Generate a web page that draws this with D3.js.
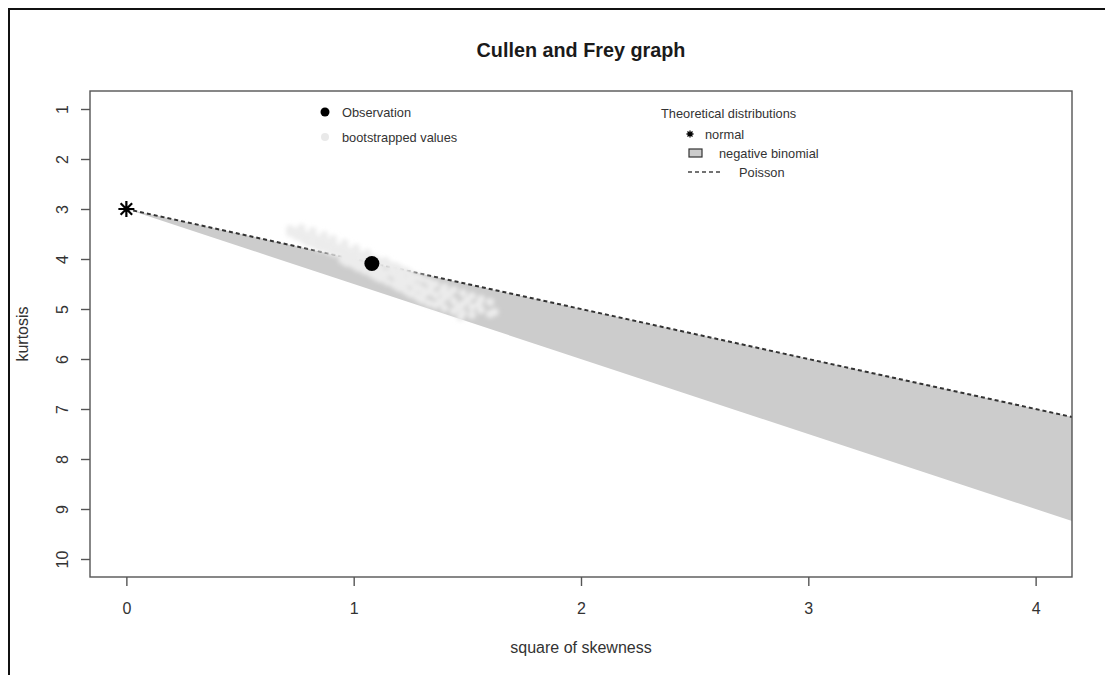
<!DOCTYPE html>
<html>
<head>
<meta charset="utf-8">
<script src="https://cdn.jsdelivr.net/npm/d3@7"></script>
<style>
  html, body { margin: 0; padding: 0; background: #fff; }
  svg { display: block; font-family: "Liberation Sans", Arial, sans-serif; }
</style>
</head>
<body>
<svg id="chart" width="1105" height="675"></svg>
<script>
// Axis ticks
const skewTicks = [0, 1, 2, 3, 4];
const kurtTicks = [1, 2, 3, 4, 5, 6, 7, 8, 9, 10];

// Observed sample: square of skewness and kurtosis
const observationSkewSq = [1.08];
const observationKurt = [4.09];

// Normal distribution point
const normalSkewSq = [0];
const normalKurt = [3];

// Poisson line (upper edge of the negative binomial region)
const poissonSkewSq = [0, 4.16];
const poissonKurt = [3, 7.16];

// Lower edge of the negative binomial region
const negBinSkewSq = [0, 4.16];
const negBinLowerKurt = [3, 9.24];

// Bootstrapped (square of skewness, kurtosis) values
const bootSkewSq = [
  0.72, 0.72, 0.75, 0.75, 0.78, 0.78, 0.80, 0.80, 0.83, 0.83,
  0.85, 0.85, 0.88, 0.88, 0.90, 0.90, 0.92, 0.92, 0.95, 0.95,
  0.95, 0.97, 0.97, 0.97, 1.00, 1.00, 1.00, 1.02, 1.02, 1.02,
  1.05, 1.05, 1.05, 1.08, 1.08, 1.08, 1.10, 1.10, 1.10, 1.12,
  1.12, 1.12, 1.15, 1.15, 1.15, 1.18, 1.18, 1.18, 1.20, 1.20,
  1.20, 1.23, 1.23, 1.23, 1.25, 1.25, 1.25, 1.28, 1.28, 1.28,
  1.30, 1.30, 1.30, 1.33, 1.33, 1.33, 1.36, 1.36, 1.36, 1.40,
  1.40, 1.40, 1.44, 1.44, 1.44, 1.48, 1.48, 1.48, 1.52, 1.52,
  1.52, 1.56, 1.56, 1.60, 1.60,
  0.86, 0.93, 1.04, 1.13, 1.17, 1.26, 1.34, 1.42, 1.46, 0.98,
  1.07, 1.22, 1.38, 1.50, 0.79, 1.11,
  0.77, 0.82, 0.87, 0.91, 0.96, 1.01, 1.06, 1.14, 1.21, 1.31,
  1.39, 1.47, 1.55, 1.62, 1.27, 1.19
];
const bootKurt = [
  3.40, 3.48, 3.45, 3.55, 3.50, 3.62, 3.55, 3.68, 3.58, 3.72,
  3.62, 3.78, 3.66, 3.80, 3.70, 3.85, 3.75, 3.88, 3.78, 3.92,
  4.02, 3.82, 3.96, 4.08, 3.86, 4.00, 4.12, 3.90, 4.05, 4.18,
  3.95, 4.10, 4.24, 4.00, 4.14, 4.30, 4.02, 4.18, 4.36, 4.06,
  4.22, 4.40, 4.10, 4.28, 4.46, 4.14, 4.32, 4.52, 4.18, 4.38,
  4.58, 4.24, 4.42, 4.64, 4.30, 4.48, 4.70, 4.36, 4.55, 4.76,
  4.40, 4.60, 4.82, 4.45, 4.66, 4.88, 4.50, 4.72, 4.92, 4.56,
  4.78, 4.98, 4.62, 4.84, 5.04, 4.68, 4.90, 5.08, 4.74, 4.96,
  5.12, 4.80, 5.02, 4.86, 5.10,
  3.70, 3.82, 4.18, 4.34, 4.22, 4.40, 4.58, 4.70, 4.96, 3.90,
  4.06, 4.50, 4.86, 4.82, 3.60, 4.28,
  3.38, 3.44, 3.52, 3.60, 3.68, 3.78, 3.88, 4.04, 4.30, 4.70,
  4.64, 5.16, 4.90, 5.06, 4.60, 4.46
];

const svg = d3.select("#chart");
const W = 1105, H = 675;
const plot = { left: 90, right: 1072, top: 91, bottom: 577 };

const x = d3.scaleLinear().domain([-0.16, 4.16]).range([plot.left, plot.right]);
const y = d3.scaleLinear().domain([0.64, 10.36]).range([plot.top, plot.bottom]);

svg.append("rect").attr("width", W).attr("height", H).attr("fill", "#fff");

// Outer frame (left and top edges)
svg.append("path")
  .attr("d", `M9,${H} L9,9 L${W},9`)
  .attr("fill", "none").attr("stroke", "#111").attr("stroke-width", 2);

const defs = svg.append("defs");
defs.append("clipPath").attr("id", "plotClip")
  .append("rect")
  .attr("x", plot.left).attr("y", plot.top)
  .attr("width", plot.right - plot.left).attr("height", plot.bottom - plot.top);
// Soft edges for the dense bootstrap cloud
defs.append("filter").attr("id", "soft")
  .attr("x", "-20%").attr("y", "-20%").attr("width", "140%").attr("height", "140%")
  .append("feGaussianBlur").attr("stdDeviation", 2.2);

const inner = svg.append("g").attr("clip-path", "url(#plotClip)");

// Negative binomial region
const regionPts = poissonSkewSq.map((s, i) => [s, poissonKurt[i]])
  .concat(negBinSkewSq.map((s, i) => [s, negBinLowerKurt[i]]).reverse());
inner.append("path")
  .attr("d", d3.line().x(d => x(d[0])).y(d => y(d[1]))(regionPts) + "Z")
  .attr("fill", "#cccccc").attr("stroke", "none");

// Poisson line
inner.append("path")
  .attr("d", d3.line().x(d => x(d[0])).y(d => y(d[1]))(poissonSkewSq.map((s, i) => [s, poissonKurt[i]])))
  .attr("fill", "none").attr("stroke", "#333").attr("stroke-width", 2)
  .attr("stroke-dasharray", "4,3");

// Bootstrapped values
inner.append("g").attr("filter", "url(#soft)").selectAll("circle")
  .data(bootSkewSq.map((s, i) => [s, bootKurt[i]]))
  .join("circle")
  .attr("cx", d => x(d[0])).attr("cy", d => y(d[1])).attr("r", 4)
  .attr("fill", "#ececec");

// Observation
inner.selectAll("circle.obs")
  .data(observationSkewSq.map((s, i) => [s, observationKurt[i]]))
  .join("circle").attr("class", "obs")
  .attr("cx", d => x(d[0])).attr("cy", d => y(d[1])).attr("r", 7.5)
  .attr("fill", "#000");

// Asterisk symbol
function asterisk(g, cx, cy, r, w) {
  const d = r * 0.72;
  g.append("path")
    .attr("d", `M${cx - r},${cy} L${cx + r},${cy} M${cx},${cy - r} L${cx},${cy + r}` +
               ` M${cx - d},${cy - d} L${cx + d},${cy + d} M${cx - d},${cy + d} L${cx + d},${cy - d}`)
    .attr("stroke", "#000").attr("stroke-width", w).attr("fill", "none");
}
normalSkewSq.forEach((s, i) => asterisk(svg, x(s), y(normalKurt[i]), 8, 2.2));

// Plot box
svg.append("rect")
  .attr("x", plot.left).attr("y", plot.top)
  .attr("width", plot.right - plot.left).attr("height", plot.bottom - plot.top)
  .attr("fill", "none").attr("stroke", "#555").attr("stroke-width", 1.4);

// X axis
const xAxis = svg.append("g").attr("transform", `translate(0,${plot.bottom})`)
  .call(d3.axisBottom(x).tickValues(skewTicks).tickFormat(d3.format("d"))
    .tickSize(9).tickPadding(17));
xAxis.select(".domain").remove();
xAxis.selectAll(".tick line").attr("stroke", "#555").attr("stroke-width", 1.4);
xAxis.selectAll(".tick text").attr("font-size", 16).attr("fill", "#333")
  .attr("font-family", "Liberation Sans, Arial, sans-serif");

// Y axis (labels parallel to the axis)
const yAxis = svg.append("g").attr("transform", `translate(${plot.left},0)`)
  .call(d3.axisLeft(y).tickValues(kurtTicks).tickFormat(d3.format("d")).tickSize(9));
yAxis.select(".domain").remove();
yAxis.selectAll(".tick line").attr("stroke", "#555").attr("stroke-width", 1.4);
yAxis.selectAll(".tick text")
  .attr("x", null).attr("dy", null)
  .attr("transform", "translate(-22,0) rotate(-90)")
  .attr("text-anchor", "middle")
  .attr("font-size", 16).attr("fill", "#333")
  .attr("font-family", "Liberation Sans, Arial, sans-serif");

// Titles
svg.append("text").attr("x", (plot.left + plot.right) / 2).attr("y", 57)
  .attr("text-anchor", "middle").attr("font-size", 19.8).attr("font-weight", "bold")
  .attr("fill", "#1a1a1a").text("Cullen and Frey graph");
svg.append("text").attr("x", (plot.left + plot.right) / 2).attr("y", 653)
  .attr("text-anchor", "middle").attr("font-size", 16).attr("fill", "#333")
  .text("square of skewness");
svg.append("text").attr("transform", `translate(28,${(plot.top + plot.bottom) / 2}) rotate(-90)`)
  .attr("text-anchor", "middle").attr("font-size", 16).attr("fill", "#333")
  .text("kurtosis");

// Legend: observation / bootstrap
const leg1 = svg.append("g").attr("font-size", 12.8).attr("fill", "#333");
leg1.append("circle").attr("cx", 325).attr("cy", 112).attr("r", 4.5).attr("fill", "#000");
leg1.append("text").attr("x", 342).attr("y", 116.5).text("Observation");
leg1.append("circle").attr("cx", 325).attr("cy", 137).attr("r", 4).attr("fill", "#e9e9e9");
leg1.append("text").attr("x", 342).attr("y", 141.5).text("bootstrapped values");

// Legend: theoretical distributions
const leg2 = svg.append("g").attr("font-size", 12.8).attr("fill", "#333");
leg2.append("text").attr("x", 661).attr("y", 117.5).text("Theoretical distributions");
asterisk(leg2, 690, 134, 3.5, 1.3);
leg2.append("text").attr("x", 705).attr("y", 138.5).text("normal");
leg2.append("rect").attr("x", 689).attr("y", 149).attr("width", 13).attr("height", 8)
  .attr("fill", "#cccccc").attr("stroke", "#333").attr("stroke-width", 1.2);
leg2.append("text").attr("x", 719).attr("y", 158).text("negative binomial");
leg2.append("line").attr("x1", 688).attr("x2", 721).attr("y1", 172).attr("y2", 172)
  .attr("stroke", "#444").attr("stroke-width", 1.5).attr("stroke-dasharray", "4,3");
leg2.append("text").attr("x", 739).attr("y", 176.5).text("Poisson");
</script>
</body>
</html>
